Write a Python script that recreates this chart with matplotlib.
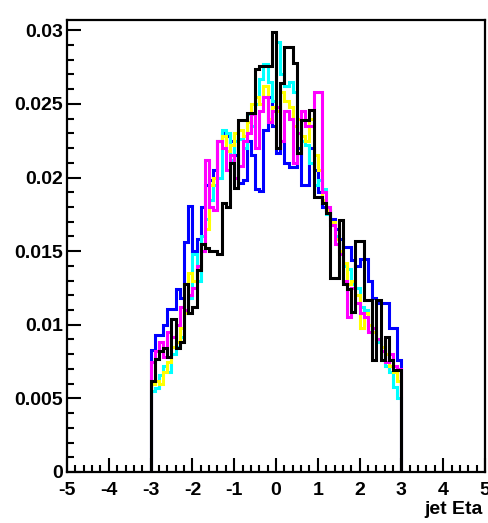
import numpy as np
import matplotlib
matplotlib.use("Agg")
import matplotlib.pyplot as plt
from matplotlib.ticker import MultipleLocator

plt.rcParams['font.family'] = ['Liberation Sans', 'DejaVu Sans']

# 60 bins of width 0.1 from -3 to 3
edges = np.round(np.arange(-3.0, 3.0001, 0.1), 2)

blue = [0.0083, 0.0093, 0.0093, 0.0100, 0.0111, 0.0111, 0.0124, 0.0118, 0.0156, 0.0181,
        0.0150, 0.0158, 0.0180, 0.0195, 0.0198, 0.0205, 0.0225, 0.0230, 0.0228, 0.0225,
        0.0215, 0.0196, 0.0198, 0.0225, 0.0215, 0.0192, 0.0191, 0.0232, 0.0255, 0.0235,
        0.0217, 0.0225, 0.0210, 0.0207, 0.0207, 0.0220, 0.0195, 0.0195, 0.0220, 0.0205,
        0.0190, 0.0180, 0.0178, 0.0172, 0.0165, 0.0158, 0.0153, 0.0153, 0.0144, 0.0140,
        0.0145, 0.0145, 0.0130, 0.0118, 0.0115, 0.0115, 0.0115, 0.0098, 0.0098, 0.0076]

cyan = [0.0055, 0.0057, 0.0066, 0.0072, 0.0068, 0.0080, 0.0085, 0.0092, 0.0108, 0.0118,
        0.0148, 0.0130, 0.0160, 0.0172, 0.0185, 0.0195, 0.0200, 0.0232, 0.0230, 0.0212,
        0.0225, 0.0226, 0.0220, 0.0243, 0.0235, 0.0250, 0.0267, 0.0277, 0.0265, 0.0252,
        0.0292, 0.0270, 0.0262, 0.0265, 0.0258, 0.0240, 0.0225, 0.0222, 0.0210, 0.0195,
        0.0198, 0.0192, 0.0175, 0.0168, 0.0160, 0.0150, 0.0140, 0.0138, 0.0128, 0.0125,
        0.0112, 0.0110, 0.0100, 0.0095, 0.0088, 0.0085, 0.0072, 0.0068, 0.0058, 0.0050]

yellow = [0.0060, 0.0062, 0.0060, 0.0068, 0.0075, 0.0085, 0.0088, 0.0098, 0.0108, 0.0135,
          0.0130, 0.0138, 0.0155, 0.0165, 0.0195, 0.0200, 0.0225, 0.0228, 0.0218, 0.0222,
          0.0230, 0.0232, 0.0228, 0.0238, 0.0250, 0.0255, 0.0250, 0.0262, 0.0240, 0.0248,
          0.0245, 0.0258, 0.0252, 0.0248, 0.0235, 0.0240, 0.0228, 0.0225, 0.0240, 0.0215,
          0.0205, 0.0185, 0.0178, 0.0170, 0.0158, 0.0150, 0.0142, 0.0128, 0.0130, 0.0120,
          0.0098, 0.0108, 0.0100, 0.0095, 0.0090, 0.0085, 0.0080, 0.0072, 0.0068, 0.0062]

magenta = [0.0075, 0.0082, 0.0088, 0.0078, 0.0095, 0.0092, 0.0100, 0.0112, 0.0110, 0.0120,
           0.0125, 0.0140, 0.0150, 0.0212, 0.0180, 0.0178, 0.0225, 0.0220, 0.0205, 0.0215,
           0.0200, 0.0208, 0.0225, 0.0230, 0.0243, 0.0220, 0.0245, 0.0255, 0.0238, 0.0245,
           0.0248, 0.0225, 0.0245, 0.0240, 0.0210, 0.0230, 0.0245, 0.0235, 0.0235, 0.0258,
           0.0258, 0.0190, 0.0180, 0.0168, 0.0155, 0.0148, 0.0130, 0.0105, 0.0125, 0.0115,
           0.0108, 0.0105, 0.0095, 0.0098, 0.0090, 0.0082, 0.0075, 0.0080, 0.0072, 0.0070]

black = [0.0062, 0.0077, 0.0082, 0.0084, 0.0078, 0.0104, 0.0084, 0.0088, 0.0128, 0.0108,
         0.0112, 0.0137, 0.0155, 0.0152, 0.0150, 0.0150, 0.0148, 0.0183, 0.0180, 0.0210,
         0.0193, 0.0239, 0.0239, 0.0244, 0.0244, 0.0274, 0.0276, 0.0276, 0.0276, 0.0299,
         0.0220, 0.0264, 0.0289, 0.0289, 0.0278, 0.0217, 0.0239, 0.0239, 0.0246, 0.0187,
         0.0187, 0.0183, 0.0176, 0.0132, 0.0132, 0.0171, 0.0128, 0.0124, 0.0109, 0.0157,
         0.0157, 0.0117, 0.0117, 0.0076, 0.0117, 0.0076, 0.0092, 0.0076, 0.0069, 0.0069]

series = [(blue, '#0000ff'), (cyan, '#00ffff'), (yellow, '#ffff00'),
          (magenta, '#ff00ff'), (black, '#000000')]

x_ticks = [-5, -4, -3, -2, -1, 0, 1, 2, 3, 4, 5]
y_ticks = [0, 0.005, 0.01, 0.015, 0.02, 0.025, 0.03]
y_labels = ['0', '0.005', '0.01', '0.015', '0.02', '0.025', '0.03']

fig = plt.figure(figsize=(4.88, 5.23), dpi=100)
ax = fig.add_axes([67/488, 1 - 472/523, (485 - 67)/488, (472 - 20)/523])

for vals, col in series:
    ax.stairs(vals, edges, baseline=0, color=col, linewidth=2.2)

ax.set_xlim(-5, 5)
ax.set_ylim(0, 0.0307)
ax.set_xticks(x_ticks)
ax.set_xticklabels([str(t) for t in x_ticks])
ax.set_yticks(y_ticks)
ax.set_yticklabels(y_labels)
ax.xaxis.set_minor_locator(MultipleLocator(0.2))
ax.yaxis.set_minor_locator(MultipleLocator(0.001))
ax.tick_params(which='both', direction='in', top=False, right=False, width=1.5)
ax.tick_params(which='major', length=10)
ax.tick_params(which='minor', length=5)
ax.tick_params(axis='x', pad=7)
ax.tick_params(axis='y', pad=3)
for lab in ax.get_xticklabels() + ax.get_yticklabels():
    lab.set_fontsize(14)
    lab.set_fontweight('bold')
for sp in ax.spines.values():
    sp.set_linewidth(1.6)

fig.text(483/488, 1 - 510/523, 'jet Eta', ha='right', va='center',
         fontsize=14, fontweight='bold')

fig.savefig('out.png', dpi=100)
